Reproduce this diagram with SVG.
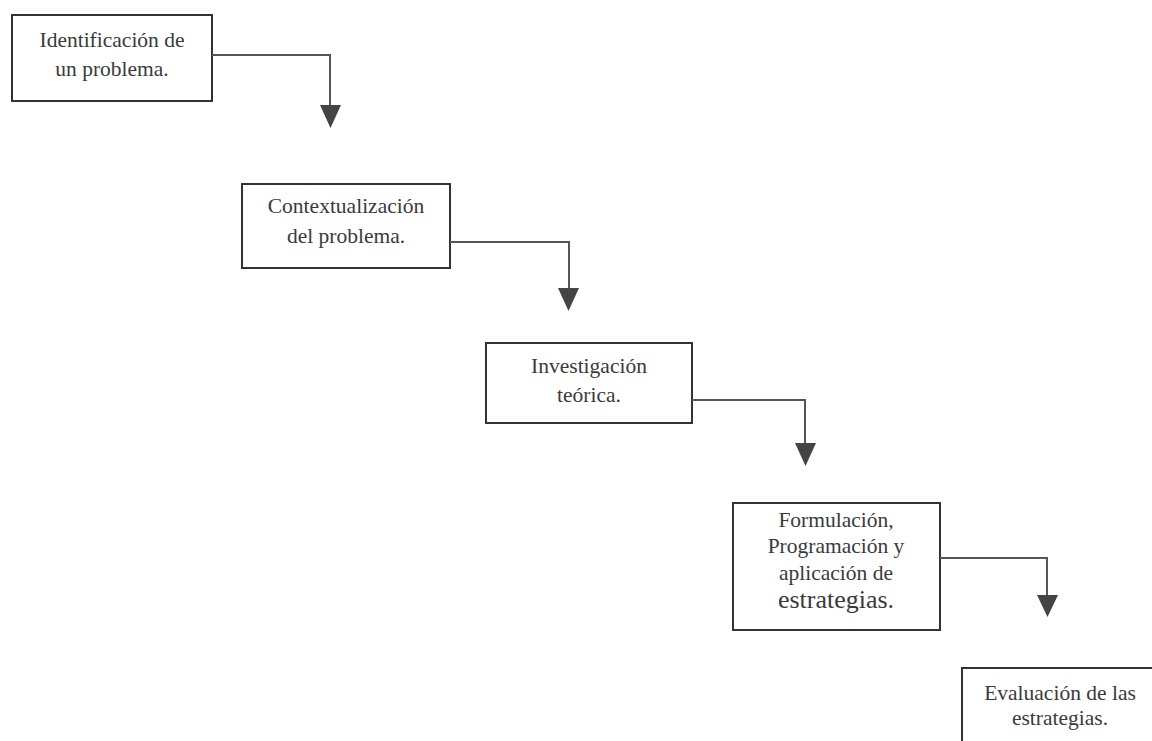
<svg xmlns="http://www.w3.org/2000/svg" width="1152" height="741" viewBox="0 0 1152 741">
<style>
.box{fill:#fff;stroke:#333;stroke-width:2}
.t{font-family:"Liberation Serif","Times New Roman",serif;font-size:21.5px;fill:#3a3a3a;text-anchor:middle}
.big{font-size:26px}
.c{fill:none;stroke:#555;stroke-width:2}
.ah{fill:#444}
</style>
<rect width="1152" height="741" fill="#fff"/>
<g id="n1"><rect class="box" x="12" y="15" width="200" height="86"/><text class="t" x="112" y="47">Identificación de</text><text class="t" x="112" y="76">un problema.</text></g>
<g id="n2"><rect class="box" x="242" y="184" width="208" height="84"/><text class="t" x="346" y="213">Contextualización</text><text class="t" x="346" y="243">del problema.</text></g>
<g id="n3"><rect class="box" x="486" y="343" width="206" height="80"/><text class="t" x="589" y="373">Investigación</text><text class="t" x="589" y="402">teórica.</text></g>
<g id="n4"><rect class="box" x="733" y="503" width="207" height="127"/><text class="t" x="836" y="527">Formulación,</text><text class="t" x="836" y="553">Programación y</text><text class="t" x="836" y="580">aplicación de</text><text class="t big" x="836" y="608">estrategias.</text></g>
<g id="n5"><rect class="box" x="962" y="668" width="200" height="80"/><text class="t" x="1060" y="700">Evaluación de las</text><text class="t" x="1060" y="725">estrategias.</text></g>
<g id="connectors">
<path class="c" d="M212 55H330V108"/><path class="ah" d="M320 105H341L330.5 128Z"/>
<path class="c" d="M450 242H569V290"/><path class="ah" d="M558 288H579L568.5 311Z"/>
<path class="c" d="M692 400H805V445"/><path class="ah" d="M795 443H816L805.5 466Z"/>
<path class="c" d="M940 558H1047V597"/><path class="ah" d="M1037 595H1058L1047.5 617Z"/>
</g>
</svg>
